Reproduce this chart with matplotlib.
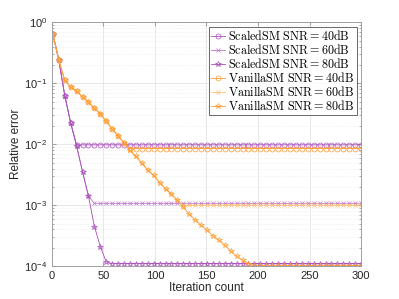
import numpy as np
import matplotlib
matplotlib.use('Agg')
import matplotlib.pyplot as plt

# marker positions along the iteration axis
iters = np.linspace(1, 300, 53)

# log10 of relative error at each marker
scaled_40 = [-0.19, -0.62, -1.20, -1.65, -2.01] + [-2.01] * 48
scaled_60 = [-0.19, -0.62, -1.20, -1.65, -2.03, -2.45, -2.85] + [-2.97] * 46
scaled_80 = [-0.19, -0.62, -1.20, -1.65, -2.03, -2.45, -2.85, -3.35, -3.68,
             -3.93] + [-3.96] * 43

vanilla_head = [-0.19, -0.62, -0.95, -1.06, -1.13, -1.22, -1.31, -1.41, -1.50,
                -1.62, -1.75, -1.86, -1.98]
vanilla_40 = vanilla_head + [-2.07] * 40
vanilla_60 = vanilla_head + [-2.10, -2.20, -2.31, -2.42, -2.51, -2.63, -2.73,
                             -2.82, -2.92] + [-3.00] * 31
vanilla_80 = vanilla_head + [-2.10, -2.20, -2.31, -2.42, -2.51, -2.63, -2.73,
                             -2.82, -2.92, -3.03, -3.15, -3.24, -3.33, -3.41,
                             -3.50, -3.57, -3.66, -3.75, -3.84, -3.90, -3.96,
                             -4.00] + [-4.00] * 18

labels = [r'$\mathrm{ScaledSM\ SNR} = 40\mathrm{dB}$',
          r'$\mathrm{ScaledSM\ SNR} = 60\mathrm{dB}$',
          r'$\mathrm{ScaledSM\ SNR} = 80\mathrm{dB}$',
          r'$\mathrm{VanillaSM\ SNR} = 40\mathrm{dB}$',
          r'$\mathrm{VanillaSM\ SNR} = 60\mathrm{dB}$',
          r'$\mathrm{VanillaSM\ SNR} = 80\mathrm{dB}$']

plt.rcParams['font.family'] = ['Liberation Sans', 'DejaVu Sans']
plt.rcParams['mathtext.fontset'] = 'cm'

fig = plt.figure(figsize=(3.99, 2.99), dpi=100)
ax = fig.add_axes([0.13, 0.11, 0.775, 0.815])

purple = '#A94CBB'
purple_l = '#BF7ACB'
orange = '#FF9A2E'
orange_l = '#FFBE70'

series = [
    (scaled_40, purple, 'o', 3.6),
    (scaled_60, purple_l, 'x', 3.0),
    (scaled_80, purple, '*', 4.0),
    (vanilla_40, orange, 'o', 3.6),
    (vanilla_60, orange_l, 'x', 3.0),
    (vanilla_80, orange, '*', 4.0),
]
for (vals, col, mk, ms), lab in zip(series, labels):
    ax.semilogy(iters, 10 ** np.array(vals), color=col, marker=mk, ms=ms,
                mfc='none', mew=0.5, lw=0.6, label=lab)

ax.set_xlim(0, 300)
ax.set_ylim(1e-4, 1)
ax.set_xticks([0, 50, 100, 150, 200, 250, 300])
ax.grid(True, which='major', color='#E4E4E4', lw=0.6)
ax.grid(True, which='minor', axis='y', color='#E8E8E8', lw=0.5, ls=':')
ax.set_axisbelow(True)
for s in ax.spines.values():
    s.set_color('#A0A0A0')
    s.set_linewidth(0.7)
ax.tick_params(which='both', direction='in', colors='#A0A0A0',
               labelcolor='#262626', labelsize=8, top=True, right=True)
ax.tick_params(which='major', length=3)
ax.tick_params(which='minor', length=1.5)
ax.set_xlabel('Iteration count', fontsize=8.5, color='#262626', labelpad=1)
ax.set_ylabel('Relative error', fontsize=8.5, color='#262626', labelpad=1)

leg = ax.legend(loc='upper right', fontsize=8.7, frameon=True, fancybox=False,
                edgecolor='#262626', borderpad=0.2, labelspacing=0.0,
                handlelength=1.2, handletextpad=0.25, borderaxespad=0.35)
leg.get_frame().set_linewidth(0.6)

fig.savefig('out.png', dpi=100)
